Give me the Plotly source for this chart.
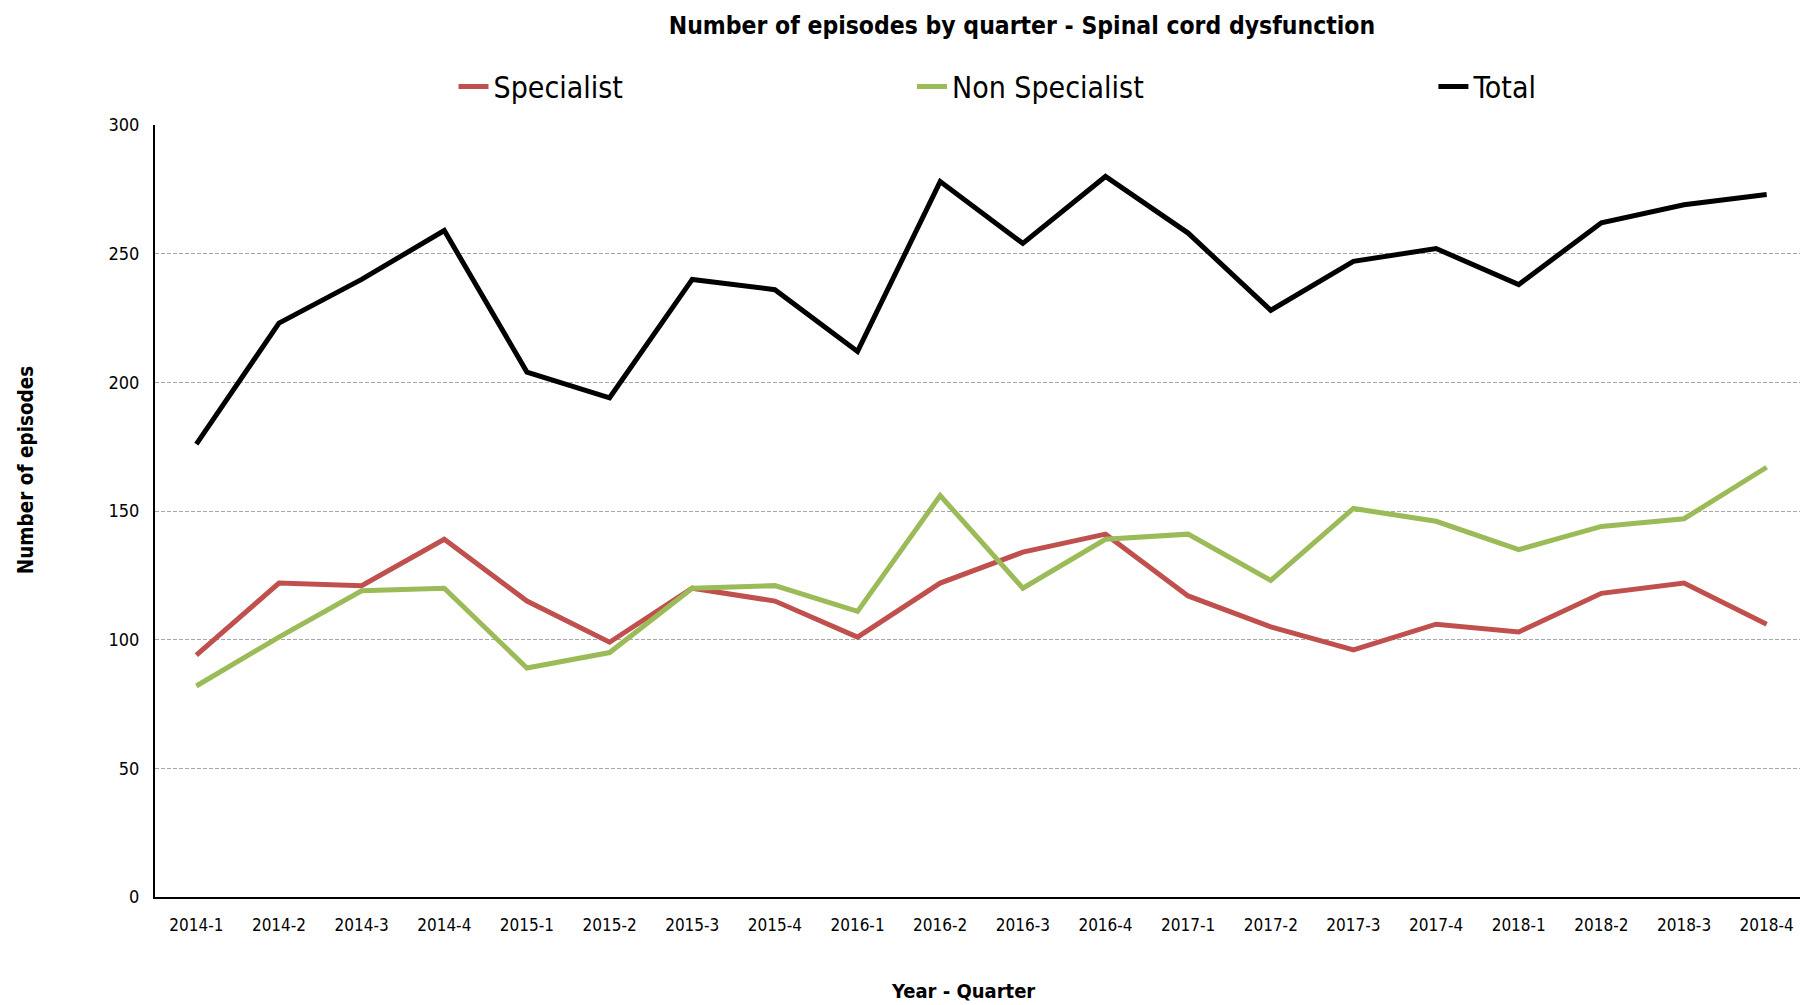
import plotly.graph_objects as go

quarters = ["2014-1", "2014-2", "2014-3", "2014-4", "2015-1", "2015-2", "2015-3", "2015-4",
            "2016-1", "2016-2", "2016-3", "2016-4", "2017-1", "2017-2", "2017-3", "2017-4",
            "2018-1", "2018-2", "2018-3", "2018-4"]
specialist = [94, 122, 121, 139, 115, 99, 120, 115, 101, 122, 134, 141, 117, 105, 96, 106, 103, 118, 122, 106]
non_specialist = [82, 101, 119, 120, 89, 95, 120, 121, 111, 156, 120, 139, 141, 123, 151, 146, 135, 144, 147, 167]
total = [176, 223, 240, 259, 204, 194, 240, 236, 212, 278, 254, 280, 258, 228, 247, 252, 238, 262, 269, 273]
y_ticks = [0, 50, 100, 150, 200, 250, 300]

NARROW = "DejaVu Sans Condensed, Liberation Sans Narrow, Arial Narrow, Liberation Sans, sans-serif"

fig = go.Figure()
fig.add_trace(go.Scatter(x=quarters, y=specialist, mode="lines", name="Specialist",
                         line=dict(color="#C0504D", width=5), legend="legend", showlegend=True))
fig.add_trace(go.Scatter(x=quarters, y=non_specialist, mode="lines", name="Non Specialist",
                         line=dict(color="#9BBB59", width=5), legend="legend2", showlegend=True))
fig.add_trace(go.Scatter(x=quarters, y=total, mode="lines", name="Total",
                         line=dict(color="#000000", width=5), legend="legend3", showlegend=True))

leg_common = dict(xref="container", yref="container", y=0.9213, yanchor="middle",
                  xanchor="left", orientation="h", bgcolor="rgba(0,0,0,0)",
                  font=dict(family=NARROW, size=30, color="#000000"))
fig.update_layout(
    width=1800, height=997,
    showlegend=True,
    paper_bgcolor="white", plot_bgcolor="white",
    margin=dict(l=146.5, r=0, t=116.5, b=108, autoexpand=False),
    title=dict(text="<b>Number of episodes by quarter - Spinal cord dysfunction</b>",
               x=0.5633, xanchor="center", y=0.9825, yanchor="middle",
               font=dict(family=NARROW, size=24.5, color="#000000")),
    legend=dict(x=0.2475, **leg_common),
    legend2=dict(x=0.5022, **leg_common),
    legend3=dict(x=0.7919, **leg_common),
    xaxis=dict(type="category", range=[-0.5, 19.5], showgrid=False, automargin=False,
               showline=True, linecolor="#000000", linewidth=2,
               ticks="", ticklabelstandoff=12,
               tickfont=dict(family=NARROW, size=17, color="#000000")),
    yaxis=dict(range=[0, 300], tickvals=y_ticks, ticktext=[str(v) for v in y_ticks],
               automargin=False,
               showgrid=True, gridcolor="#A6A6A6", gridwidth=1.2, griddash="4px,2px",
               showline=True, linecolor="#000000", linewidth=2, zeroline=False,
               ticks="", ticklabelstandoff=10,
               tickfont=dict(family=NARROW, size=18, color="#000000")),
    annotations=[
        dict(text="<b>Year - Quarter</b>", xref="paper", yref="paper",
             x=0.489, y=-0.1223, xanchor="center", yanchor="middle", showarrow=False,
             font=dict(family=NARROW, size=20, color="#000000")),
        dict(text="<b>Number of episodes</b>", xref="paper", yref="paper",
             x=-0.0781, y=0.554, xanchor="center", yanchor="middle", showarrow=False,
             textangle=-90, font=dict(family=NARROW, size=20.5, color="#000000")),
    ],
)

fig.write_html("out.html")
